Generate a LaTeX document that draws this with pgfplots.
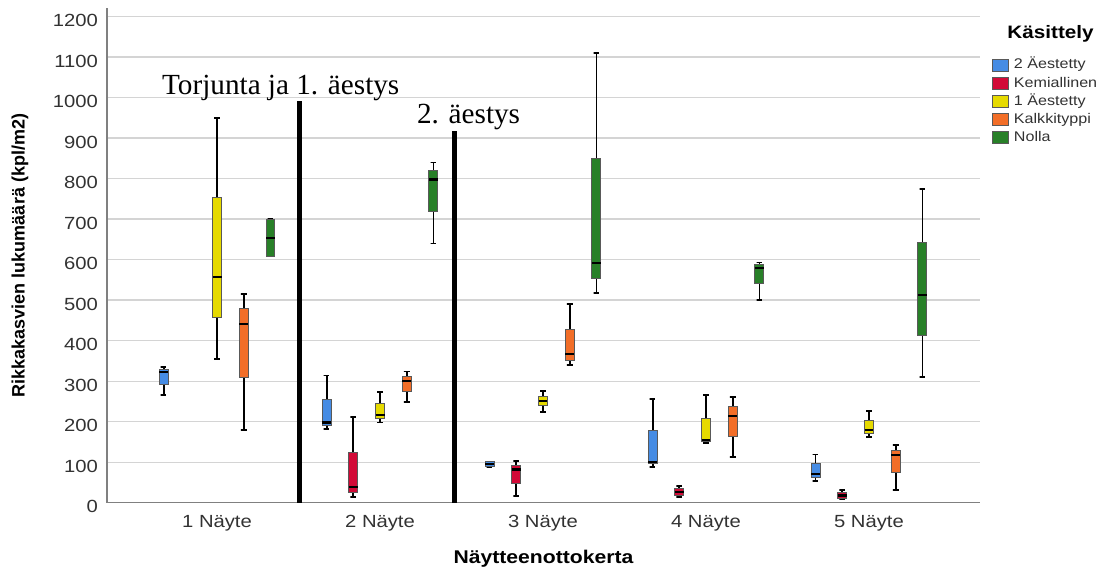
\documentclass[border=0pt]{standalone}
\usepackage{pgfplots}
\pgfplotsset{compat=1.18}
\usepackage{fontspec}
\setmainfont{Liberation Sans}[FakeStretch=1.15]
\newfontfamily\annfont{Liberation Serif}
\newfontfamily\ylabfont{Liberation Sans}
\definecolor{cBlue}{RGB}{70,140,228}
\definecolor{cRed}{RGB}{210,10,55}
\definecolor{cYellow}{RGB}{230,218,0}
\definecolor{cOrange}{RGB}{242,110,40}
\definecolor{cGreen}{RGB}{40,128,40}
\definecolor{txt}{RGB}{50,50,50}
% #1 colour, #2 position, #3 lower whisker, #4 lower quartile, #5 median, #6 upper quartile, #7 upper whisker
\newcommand{\bx}[7]{%
  \pgfmathsetmacro\boxL{#2-0.0275}%
  \pgfmathsetmacro\boxR{#2+0.0275}%
  \pgfmathsetmacro\capL{#2-0.018}%
  \pgfmathsetmacro\capR{#2+0.018}%
  \edef\doit{%
    \noexpand\addplot[forget plot, unbounded coords=jump, black, line width=0.95pt]
      coordinates {(#2,#6) (#2,#7) (\capL,#7) (\capR,#7) (#2,nan) (#2,#4) (#2,#3) (\capL,#3) (\capR,#3)};
    \noexpand\addplot[forget plot, fill=#1, draw=black!65, line width=0.5pt]
      coordinates {(\boxL,#4) (\boxR,#4) (\boxR,#6) (\boxL,#6)} -- cycle;
    \noexpand\addplot[forget plot, black, line width=1.1pt]
      coordinates {(\boxL,#5) (\boxR,#5)};
  }\doit}
\begin{document}
\begin{tikzpicture}
\path[use as bounding box] (-53.5pt,-33.15pt) rectangle (502.5pt,251.35pt);
\begin{axis}[
  scale only axis, width=436.5pt, height=247.2pt,
  xmin=0.325, xmax=5.681, ymin=0, ymax=1220.7,
  clip=false,
  axis x line*=bottom, axis y line*=left,
  axis line style={black!50, line width=0.6pt},
  major tick length=0pt,
  xtick={1,2,3,4,5},
  xticklabels={1 Näyte,2 Näyte,3 Näyte,4 Näyte,5 Näyte},
  ytick={0,100,...,1200},
  ymajorgrids,
  major grid style={black!17, line width=0.7pt},
  /pgf/number format/assume math mode=true,
  /pgf/number format/1000 sep={},
  tick label style={font=\fontsize{8.8}{10}\selectfont, text=txt},
  xticklabel style={anchor=base, inner sep=0pt, yshift=-12.5pt},
  yticklabel style={anchor=base east, inner sep=0pt, xshift=-4.35pt, yshift=-5pt},
  xlabel={Näytteenottokerta},
  xlabel style={at={(axis description cs:0.5,0)}, anchor=base, yshift=-30.3pt, font=\bfseries\fontsize{9.2}{10}\selectfont, inner sep=0pt},
  ylabel={Rikkakasvien lukumäärä (kpl/m2)},
  ylabel style={at={(axis description cs:-0.0997,0.5)}, anchor=center, font=\ylabfont\bfseries\fontsize{9}{10}\selectfont},
  legend style={at={(axis description cs:1.0137,0.902)}, anchor=north west, draw=none, fill=none,
    inner sep=0pt, row sep=1.2pt, font=\fontsize{7}{8}\selectfont, text=txt,
    nodes={inner sep=0.6pt, text height=5.3pt, text depth=1.4pt},
    /tikz/every odd column/.append style={column sep=1.8pt}},
  legend cell align=left,
  legend image code/.code={\draw[#1] (0pt,-3pt) rectangle (8pt,3pt);},
]
% 2 Aestetty (blue)
\bx{cBlue}{0.672}{265}{293}{322}{328}{334}
\bx{cBlue}{1.672}{181}{190}{198}{255}{314}
\bx{cBlue}{2.672}{89}{89}{96}{101}{101}
\bx{cBlue}{3.672}{89}{96}{101}{179}{255}
\bx{cBlue}{4.672}{53}{63}{71}{96}{119}
% Kemiallinen (red)
\bx{cRed}{1.836}{15}{26}{39}{124}{211}
\bx{cRed}{2.836}{17}{48}{82}{93}{104}
\bx{cRed}{3.836}{13}{17}{27}{35}{41}
\bx{cRed}{4.836}{8}{10}{18}{25}{31}
% 1 Aestetty (yellow)
\bx{cYellow}{1}{354}{457}{558}{754}{950}
\bx{cYellow}{2}{198}{207}{217}{245}{274}
\bx{cYellow}{3}{225}{239}{252}{263}{276}
\bx{cYellow}{4}{148}{150}{155}{209}{266}
\bx{cYellow}{5}{163}{171}{180}{202}{226}
% Kalkkityppi (orange)
\bx{cOrange}{1.164}{179}{310}{441}{479}{515}
\bx{cOrange}{2.164}{249}{274}{300}{311}{324}
\bx{cOrange}{3.164}{339}{352}{367}{428}{491}
\bx{cOrange}{4.164}{113}{164}{215}{238}{262}
\bx{cOrange}{5.164}{32}{74}{118}{129}{143}
% Nolla (green)
\bx{cGreen}{1.328}{609}{609}{654}{700}{700}
\bx{cGreen}{2.328}{640}{719}{798}{819}{840}
\bx{cGreen}{3.328}{517}{554}{592}{851}{1111}
\bx{cGreen}{4.328}{500}{540}{579}{587}{593}
\bx{cGreen}{5.328}{310}{412}{512}{643}{775}
% separator lines
\addplot[forget plot, black, line width=2.5pt] coordinates {(1.503,0) (1.503,993)};
\addplot[forget plot, black, line width=2.5pt] coordinates {(2.454,0) (2.454,918)};
\node[anchor=base west, inner sep=0pt, font=\annfont\fontsize{14.6}{16}\selectfont] at (axis cs:0.661,1008) {Torjunta ja 1. äestys};
\node[anchor=base west, inner sep=0pt, font=\annfont\fontsize{14.6}{16}\selectfont] at (axis cs:2.225,937) {2. äestys};
\node[anchor=base west, inner sep=0pt, font=\bfseries\fontsize{9}{10}\selectfont] at (axis description cs:1.031,0.938) {Käsittely};
\addlegendimage{fill=cBlue, draw=black!65, line width=0.4pt}
\addlegendentry{2 Äestetty}
\addlegendimage{fill=cRed, draw=black!65, line width=0.4pt}
\addlegendentry{Kemiallinen}
\addlegendimage{fill=cYellow, draw=black!65, line width=0.4pt}
\addlegendentry{1 Äestetty}
\addlegendimage{fill=cOrange, draw=black!65, line width=0.4pt}
\addlegendentry{Kalkkityppi}
\addlegendimage{fill=cGreen, draw=black!65, line width=0.4pt}
\addlegendentry{Nolla}
\end{axis}
\end{tikzpicture}
\end{document}
